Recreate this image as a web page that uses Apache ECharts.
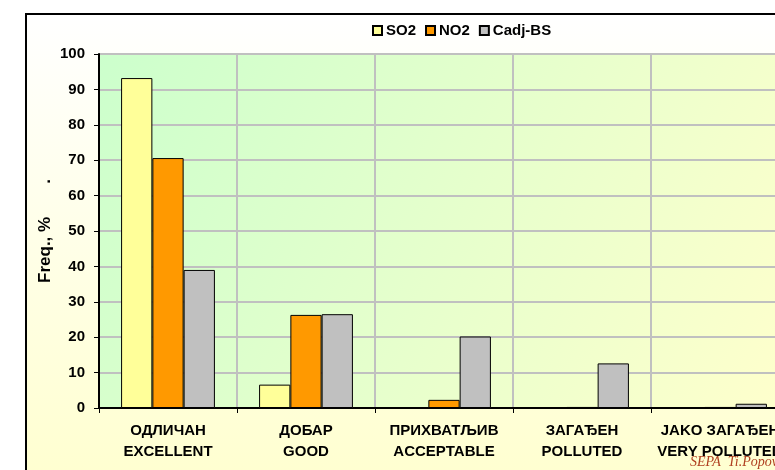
<!DOCTYPE html>
<html>
<head>
<meta charset="utf-8">
<script src="https://cdn.jsdelivr.net/npm/echarts@6/dist/echarts.min.js"></script>
<style>
  html, body { margin: 0; padding: 0; background: #ffffff; }
  #chart { width: 775px; height: 470px; }
</style>
</head>
<body>
<div id="chart"></div>
<script>
// Air quality classes (Serbian / English)
const categories = [
  'ОДЛИЧАН\nEXCELLENT',
  'ДОБАР\nGOOD',
  'ПРИХВАТЉИВ\nACCEPTABLE',
  'ЗАГАЂЕН\nPOLLUTED',
  'JAKO ЗАГАЂЕН\nVERY POLLUTED'
];
// Frequency of each class, %
const so2Values  = [93.2, 6.6, 0, 0, 0];
const no2Values  = [70.6, 26.3, 2.3, 0.3, 0.3];
const cadjValues = [39.0, 26.5, 20.2, 12.6, 1.2];
const yTicks = { min: 0, max: 100, interval: 10 };

const chart = echarts.init(document.getElementById('chart'));

const barStyle = (color) => ({ color: color, borderColor: '#000000', borderWidth: 1 });

chart.setOption({
  animation: false,
  textStyle: { fontFamily: 'Liberation Sans, Arial, sans-serif' },
  graphic: [
    {
      type: 'rect',
      z: -10,
      shape: { x: 26, y: 14, width: 800, height: 500 },
      style: {
        fill: {
          type: 'linear', x: 0, y: 0, x2: 0, y2: 1,
          colorStops: [
            { offset: 0, color: '#ffffff' },
            { offset: 1, color: '#ffffcc' }
          ]
        },
        stroke: '#000000',
        lineWidth: 2
      }
    },
    {
      type: 'text',
      left: 690,
      top: 455,
      style: {
        text: 'SEPA  Ti.Popović',
        fill: '#b04020',
        font: 'italic 14px "Liberation Serif", "Times New Roman", serif'
      }
    }
  ],
  legend: {
    left: 372,
    top: 23,
    padding: 0,
    itemWidth: 9,
    itemHeight: 9,
    itemGap: 9,
    icon: 'rect',
    textStyle: { fontWeight: 'bold', fontSize: 15, color: '#000000', padding: [0, 0, 0, -1] },
    data: ['SO2', 'NO2', 'Cadj-BS']
  },
  grid: {
    left: 99,
    top: 54,
    width: 690,
    bottom: 62,
    containLabel: false,
    outerBoundsMode: 'none',
    show: true,
    borderWidth: 1,
    borderColor: '#808080',
    backgroundColor: {
      type: 'linear', x: 0, y: 0, x2: 1, y2: 1,
      colorStops: [
        { offset: 0, color: '#ccffcc' },
        { offset: 1, color: '#ffffcc' }
      ]
    }
  },
  xAxis: {
    type: 'category',
    data: categories,
    position: 'bottom',
    axisLine: { show: true, lineStyle: { color: '#000000', width: 2 } },
    axisTick: { show: true, alignWithLabel: false, length: 5, lineStyle: { color: '#000000' } },
    splitLine: { show: true, interval: 0, lineStyle: { color: '#c0c0c0', width: 2 } },
    axisLabel: {
      interval: 0,
      margin: 12,
      color: '#000000',
      fontWeight: 'bold',
      fontSize: 15,
      lineHeight: 21
    }
  },
  yAxis: {
    type: 'value',
    min: yTicks.min,
    max: yTicks.max,
    interval: yTicks.interval,
    name: 'Freq., %       .',
    nameLocation: 'middle',
    nameGap: 45,
    nameMoveOverlap: false,
    nameTextStyle: { fontWeight: 'bold', fontSize: 17, color: '#000000' },
    axisLine: { show: true, lineStyle: { color: '#000000', width: 2 } },
    axisTick: { show: true, length: 5, lineStyle: { color: '#000000' } },
    splitLine: { show: true, lineStyle: { color: '#c0c0c0', width: 2 } },
    axisLabel: { color: '#000000', fontWeight: 'bold', fontSize: 15, margin: 14 }
  },
  series: [
    {
      name: 'SO2', type: 'bar', data: so2Values,
      barGap: '0%', barCategoryGap: '32%',
      itemStyle: barStyle('#ffff99')
    },
    {
      name: 'NO2', type: 'bar', data: no2Values,
      barGap: '0%', barCategoryGap: '32%',
      itemStyle: barStyle('#ff9900')
    },
    {
      name: 'Cadj-BS', type: 'bar', data: cadjValues,
      barGap: '0%', barCategoryGap: '32%',
      itemStyle: barStyle('#c0c0c0')
    }
  ]
});
</script>
</body>
</html>
